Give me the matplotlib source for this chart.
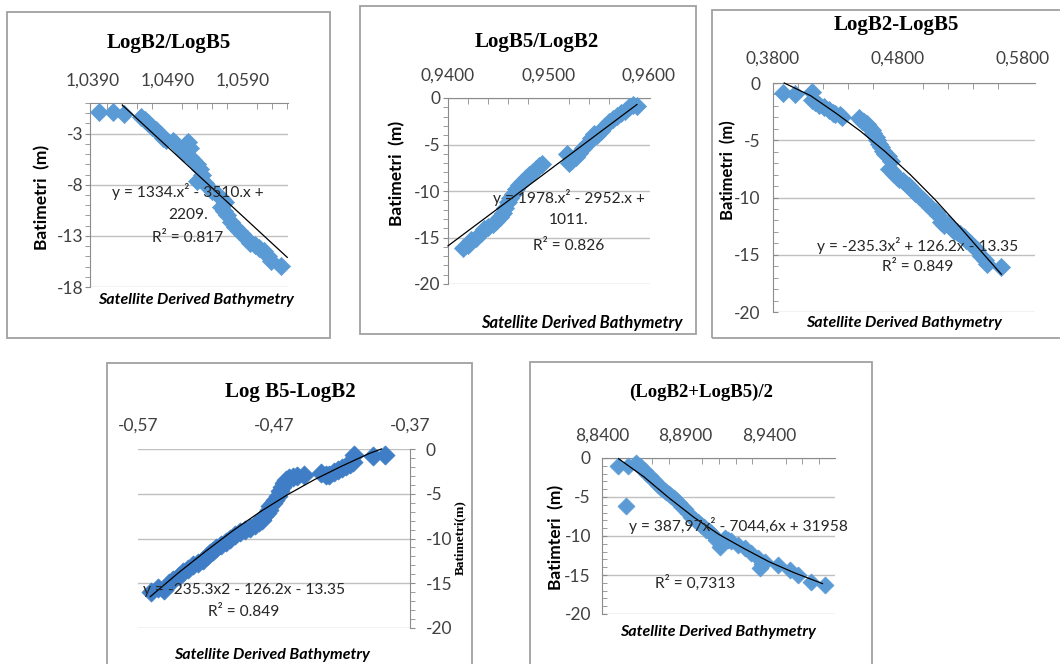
import matplotlib
matplotlib.use("Agg")
import matplotlib.pyplot as plt
from matplotlib.patches import Rectangle
from matplotlib.ticker import FixedLocator, MultipleLocator, FuncFormatter

SANS = ["Lato", "DejaVu Sans"]
SERIF = ["Liberation Serif", "DejaVu Serif"]
plt.rcParams["font.family"] = SANS

# ---------------------------------------------------------------------------
# Data (x = band ratio, y = bathymetry in m)
# ---------------------------------------------------------------------------
# (a) LogB2/LogB5
p1_x = [1.0399, 1.0418, 1.0433, 1.0455, 1.0460, 1.0465, 1.0470, 1.0475, 1.0480,
        1.0484, 1.0488, 1.0497, 1.0500, 1.0510, 1.0515, 1.0518, 1.0520, 1.0512,
        1.0520, 1.0525, 1.0530, 1.0534, 1.0536, 1.0530, 1.0540, 1.0545, 1.0550,
        1.0557, 1.0563, 1.0567, 1.0562, 1.0566, 1.0570, 1.0575, 1.0580, 1.0586,
        1.0590, 1.0596, 1.0600, 1.0607, 1.0612, 1.0619, 1.0624, 1.0628, 1.0641]
p1_y = [-0.9, -0.9, -1.1, -1.4, -1.7, -2.0, -2.3, -2.6, -3.0,
        -3.4, -3.6, -3.7, -3.9, -4.6, -4.0, -3.8, -4.4, -4.9,
        -5.3, -5.6, -6.0, -6.5, -7.0, -7.6, -7.8, -8.2, -8.6,
        -9.0, -9.4, -9.7, -10.2, -10.6, -11.0, -11.6, -12.1, -12.5,
        -12.8, -13.3, -13.7, -13.9, -14.2, -14.5, -15.0, -15.5, -15.9]
p1_trend_x = [1.0430, 1.0650]
p1_trend_y = [-0.2, -15.1]

# (b) LogB5/LogB2
p2_x = [0.9415, 0.9420, 0.9423, 0.9428, 0.9433, 0.9436, 0.9440, 0.9445, 0.9448,
        0.9452, 0.9455, 0.9457, 0.9460, 0.9462, 0.9465, 0.9468, 0.9471, 0.9474,
        0.9478, 0.9481, 0.9485, 0.9488, 0.9491, 0.9494, 0.9518, 0.9520, 0.9523,
        0.9527, 0.9530, 0.9534, 0.9538, 0.9542, 0.9545, 0.9548, 0.9552, 0.9556,
        0.9560, 0.9564, 0.9568, 0.9572, 0.9576, 0.9580, 0.9584, 0.9588]
p2_y = [-16.1, -15.8, -15.3, -15.0, -14.5, -14.1, -13.9, -13.6, -13.2,
        -12.8, -12.4, -11.8, -11.2, -10.8, -10.3, -9.8, -9.4, -9.0,
        -8.6, -8.3, -8.0, -7.6, -7.3, -7.1, -6.0, -7.0, -6.7,
        -6.3, -5.9, -5.4, -4.9, -4.3, -3.9, -4.0, -3.5, -3.0,
        -2.6, -2.3, -1.9, -1.6, -1.4, -1.0, -0.7, -0.9]
p2_trend_x = [0.9400, 0.9588]
p2_trend_y = [-15.9, -0.7]

# (c) LogB2-LogB5
p3_x = [0.3881, 0.3976, 0.4110, 0.4116, 0.4140, 0.4165, 0.4205, 0.4246, 0.4280,
        0.4300, 0.4340, 0.4354, 0.4490, 0.4510, 0.4530, 0.4550, 0.4570, 0.4590,
        0.4605, 0.4624, 0.4637, 0.4650, 0.4665, 0.4680, 0.4700, 0.4720, 0.4746,
        0.4730, 0.4750, 0.4770, 0.4790, 0.4813, 0.4840, 0.4868, 0.4890, 0.4910,
        0.4940, 0.4976, 0.5000, 0.5030, 0.5055, 0.5084, 0.5105, 0.5124, 0.5150,
        0.5170, 0.5200, 0.5230, 0.5250, 0.5273, 0.5300, 0.5327, 0.5350, 0.5380,
        0.5410, 0.5435, 0.5470, 0.5500, 0.5516, 0.5624]
p3_y = [-0.87, -1.0, -0.8, -1.5, -1.7, -1.95, -2.1, -2.4, -2.6,
        -2.7, -2.8, -3.0, -3.1, -3.3, -3.4, -3.6, -3.8, -4.1,
        -4.4, -4.7, -5.0, -5.3, -5.6, -5.9, -6.2, -6.4, -6.8,
        -7.5, -7.7, -7.95, -8.2, -8.4, -8.6, -8.8, -9.0, -9.2,
        -9.6, -9.95, -10.2, -10.45, -10.8, -11.1, -11.3, -11.5, -12.1,
        -12.4, -12.3, -12.6, -12.9, -13.0, -13.2, -13.45, -13.7, -14.0,
        -14.3, -14.6, -15.1, -15.5, -15.8, -16.1]
p3_trend_x = [0.389, 0.41, 0.43, 0.45, 0.47, 0.49, 0.51, 0.53, 0.55, 0.563]
p3_trend_y = [0.0, -1.1, -2.6, -4.2, -6.0, -8.0, -10.2, -12.6, -15.1, -16.7]

# (d) Log B5-LogB2
p4_x = [-0.5606, -0.5550, -0.5507, -0.5470, -0.5445, -0.5400, -0.5370, -0.5330,
        -0.5297, -0.5260, -0.5222, -0.5195, -0.5173, -0.5150, -0.5123, -0.5090,
        -0.5050, -0.5020, -0.4987, -0.4950, -0.4913, -0.4875, -0.4839, -0.4810,
        -0.4790, -0.4770, -0.4752, -0.4740, -0.4727, -0.4710, -0.4690, -0.4670,
        -0.4653, -0.4640, -0.4628, -0.4610, -0.4591, -0.4560, -0.4530, -0.4480,
        -0.4356, -0.4320, -0.4294, -0.4260, -0.4232, -0.4200, -0.4170, -0.4140,
        -0.4121, -0.4109, -0.3972, -0.3886]
p4_y = [-15.96, -15.5, -15.8, -15.0, -14.65, -14.2, -13.7, -13.4,
        -13.0, -12.7, -12.4, -12.0, -11.66, -11.4, -11.1, -10.7,
        -10.35, -10.0, -9.6, -9.3, -9.0, -8.8, -8.5, -8.2,
        -7.9, -7.5, -7.2, -6.8, -6.4, -6.0, -5.7, -5.2,
        -4.7, -4.2, -3.8, -3.5, -3.25, -3.1, -3.07, -2.9,
        -2.7, -2.9, -2.9, -2.6, -2.3, -2.1, -1.94, -1.7,
        -1.4, -0.64, -0.82, -0.64]
p4_trend_x = [-0.561, -0.54, -0.52, -0.50, -0.48, -0.46, -0.44, -0.42, -0.40, -0.391]
p4_trend_y = [-16.5, -13.8, -11.4, -9.1, -7.0, -5.1, -3.4, -1.9, -0.5, 0.0]

# (e) (LogB2+LogB5)/2
p5_x = [8.8496, 8.8546, 8.8556, 8.8606, 8.8626, 8.8640, 8.8655, 8.8670, 8.8685,
        8.8700, 8.8715, 8.8735, 8.8755, 8.8770, 8.8785, 8.8800, 8.8815, 8.8830,
        8.8845, 8.8860, 8.8875, 8.8895, 8.8915, 8.8935, 8.8955, 8.8975, 8.8995,
        8.9010, 8.9025, 8.9040, 8.9055, 8.9070, 8.9085, 8.9105, 8.9135, 8.9155,
        8.9174, 8.9214, 8.9254, 8.9294, 8.9334, 8.9344, 8.9360, 8.9374, 8.9454,
        8.9524, 8.9574, 8.9653, 8.9733]
p5_y = [-1.07, -6.1, -1.07, -0.64, -1.07, -1.4, -1.7, -2.0, -2.36,
        -2.7, -3.0, -3.4, -3.85, -4.1, -4.3, -4.6, -4.9, -5.1,
        -5.35, -5.8, -6.2, -6.6, -7.07, -7.5, -7.9, -8.2, -8.57,
        -8.9, -9.2, -9.4, -9.64, -10.0, -10.5, -11.35, -10.3, -10.5,
        -10.7, -11.1, -11.6, -12.2, -12.85, -14.1, -13.6, -13.3, -13.7,
        -14.35, -15.0, -15.85, -16.3]
p5_trend_x = [8.850, 8.865, 8.880, 8.895, 8.910, 8.925, 8.940, 8.955, 8.972]
p5_trend_y = [-0.1, -2.4, -5.1, -7.6, -9.8, -11.6, -13.3, -14.7, -16.1]

# ---------------------------------------------------------------------------
W, H = 1060, 664
fig = plt.figure(figsize=(W / 100, H / 100), dpi=100)

GRID = "#C0C0C0"
AXIS = "#8C8C8C"
TICKC = "#404040"
EQC = "#262626"
BLUE = "#5B9BD5"
TICK_FS = 12.5
LAB_FS = 11.5
EQ_FS = 11.2
YLAB_FS = 12.5
TITLE_FS = 15


def fx(x):
    return x / W


def fy(y):
    return 1 - y / H


def box(x0, y0, x1, y1):
    fig.patches.append(Rectangle((fx(x0), fy(y1)), (x1 - x0) / W, (y1 - y0) / H,
                                 transform=fig.transFigure, fill=False,
                                 edgecolor="#A0A0A0", linewidth=1.3))


def text(x, y, s, **kw):
    fig.text(fx(x), fy(y), s, **kw)


def eq_lines(x, ys, lines):
    for yy, s in zip(ys, lines):
        text(x, yy, s, fontsize=EQ_FS, ha="center", va="center", color=EQC)


def panel(rect, xs, ys, tx, ty, xlim, ylim, xmajor, xminor, yticks, xfmt,
          right_axis=False, color=BLUE, xpad=10, msize=85, ydir="out", ypad=1):
    x0, y0, x1, y1 = rect
    ax = fig.add_axes([fx(x0), fy(y1), (x1 - x0) / W, (y1 - y0) / H])
    ax.set_facecolor("none")
    ax.scatter(xs, ys, marker="D", s=msize, color=color, edgecolors=color,
               linewidths=0.5, zorder=3, clip_on=False)
    ax.plot(tx, ty, color="black", lw=0.9, zorder=4, clip_on=False)
    ax.set_xlim(*xlim)
    ax.set_ylim(*ylim)
    ax.xaxis.tick_top()
    ax.xaxis.set_major_locator(FixedLocator(xmajor))
    ax.xaxis.set_major_formatter(FuncFormatter(lambda v, p: xfmt.format(v).replace(".", ",")))
    ax.yaxis.set_major_locator(FixedLocator(yticks))
    ax.yaxis.set_minor_locator(MultipleLocator(1))
    ax.yaxis.set_major_formatter(FuncFormatter(lambda v, p: f"{v:g}"))
    ax.yaxis.grid(True, color=GRID, lw=1.0)
    ax.set_axisbelow(True)
    for s in ax.spines.values():
        s.set_visible(False)
    ax.tick_params(axis="x", which="both", colors=AXIS, labelcolor=TICKC,
                   labelsize=TICK_FS, pad=xpad, direction="in", length=0)
    if right_axis:
        ax.yaxis.tick_right()
        ax.spines["right"].set_visible(True)
        ax.spines["right"].set_color(AXIS)
    else:
        ax.spines["left"].set_visible(True)
        ax.spines["left"].set_color(AXIS)
        ax.spines["top"].set_visible(True)
        ax.spines["top"].set_color(AXIS)
        ax.xaxis.set_minor_locator(FixedLocator(xminor))
        ax.tick_params(axis="x", which="minor", direction="in", length=4,
                       color=AXIS, top=True, bottom=False)
    ax.tick_params(axis="y", which="both", colors=AXIS, labelcolor=TICKC,
                   labelsize=TICK_FS, direction=ydir, length=3.5, pad=ypad)
    return ax


def steps(a, b, step):
    out, v = [], a
    while v <= b + step * 1e-6:
        out.append(round(v, 6))
        v += step
    return out


# borders of the five chart objects
box(7, 12, 330, 338)
box(360, 6, 696, 334)
box(712, 10, 1070, 338)
box(107, 363, 472, 680)
box(530, 362, 872, 680)

# ---- (a) LogB2/LogB5 ----
panel((90, 103, 288, 287), p1_x, p1_y, p1_trend_x, p1_trend_y,
      (1.0387, 1.0651), (-18, 0), [1.039, 1.049, 1.059],
      steps(1.039, 1.065, 0.002), [-18, -13, -8, -3], "{:.4f}", ypad=1)
text(169, 43, "LogB2/LogB5", family=SERIF, weight="bold", fontsize=TITLE_FS,
     ha="center", va="center")
text(42, 197, "Batimetri  (m)", weight="bold", fontsize=YLAB_FS, rotation=90,
     ha="center", va="center")
text(196, 300, "Satellite Derived Bathymetry", weight="bold", style="italic",
     fontsize=LAB_FS, ha="center", va="center")
eq_lines(188, [192, 215, 238], ["y = 1334.x\u00b2 - 3510.x +", "2209.", "R\u00b2 = 0.817"])

# ---- (b) LogB5/LogB2 ----
panel((448, 98, 650, 284), p2_x, p2_y, p2_trend_x, p2_trend_y,
      (0.9400, 0.9601), (-20, 0), [0.94, 0.95, 0.96],
      steps(0.940, 0.960, 0.002), [-20, -15, -10, -5, 0], "{:.4f}", ypad=2)
text(537, 42, "LogB5/LogB2", family=SERIF, weight="bold", fontsize=TITLE_FS,
     ha="center", va="center")
text(397, 173, "Batimetri  (m)", weight="bold", fontsize=YLAB_FS, rotation=90,
     ha="center", va="center")
text(582, 323, "Satellite Derived Bathymetry", weight="bold", style="italic",
     fontsize=LAB_FS + 0.4, ha="center", va="center")
eq_lines(569, [197, 220, 246], ["y = 1978.x\u00b2 - 2952.x +", "1011.", "R\u00b2 = 0.826"])

# ---- (c) LogB2-LogB5 ----
panel((773, 83, 1035, 312), p3_x, p3_y, p3_trend_x, p3_trend_y,
      (0.38, 0.59), (-20, 0), [0.38, 0.48, 0.58],
      steps(0.38, 0.58, 0.02), [-20, -15, -10, -5, 0], "{:.4f}", xpad=12,
      ydir="in", ypad=9)
text(896, 25, "LogB2-LogB5", family=SERIF, weight="bold", fontsize=TITLE_FS,
     ha="center", va="center")
text(728, 170, "Batimetri  (m)", weight="bold", fontsize=YLAB_FS - 0.5, rotation=90,
     ha="center", va="center")
text(904, 323, "Satellite Derived Bathymetry", weight="bold", style="italic",
     fontsize=LAB_FS, ha="center", va="center")
eq_lines(918, [246, 267], ["y = -235.3x\u00b2 + 126.2x - 13.35", "R\u00b2 = 0.849"])

# ---- (d) Log B5-LogB2 ----
panel((138, 449, 410, 628), p4_x, p4_y, p4_trend_x, p4_trend_y,
      (-0.57, -0.37), (-20, 0), [-0.57, -0.47, -0.37], [],
      [-20, -15, -10, -5, 0], "{:.2f}", right_axis=True, color="#3F7EC6",
      xpad=11, msize=95, ypad=8)
text(290, 392, "Log B5-LogB2", family=SERIF, weight="bold", fontsize=TITLE_FS,
     ha="center", va="center")
text(460, 538, "Batimetri(m)", family=SERIF, weight="bold", fontsize=9.5,
     rotation=90, ha="center", va="center")
text(272, 655, "Satellite Derived Bathymetry", weight="bold", style="italic",
     fontsize=LAB_FS, ha="center", va="center")
eq_lines(244, [590, 612], ["y = -235.3x2 - 126.2x - 13.35", "R\u00b2 = 0.849"])

# ---- (e) (LogB2+LogB5)/2 ----
panel((602, 458, 835, 614), p5_x, p5_y, p5_trend_x, p5_trend_y,
      (8.84, 8.9795), (-20, 0), [8.84, 8.89, 8.94],
      steps(8.84, 8.97, 0.01), [-20, -15, -10, -5, 0], "{:.4f}", msize=75,
      ydir="in", ypad=8)
text(701, 392, "(LogB2+LogB5)/2", family=SERIF, weight="bold", fontsize=13.5,
     ha="center", va="center")
text(556, 537, "Batimteri  (m)", weight="bold", fontsize=YLAB_FS, rotation=90,
     ha="center", va="center")
text(718, 632, "Satellite Derived Bathymetry", weight="bold", style="italic",
     fontsize=LAB_FS, ha="center", va="center")
eq_lines(738, [526], ["y = 387,97x\u00b2 - 7044,6x + 31958"])
eq_lines(695, [583], ["R\u00b2 = 0,7313"])

fig.savefig("out.png", dpi=100)
